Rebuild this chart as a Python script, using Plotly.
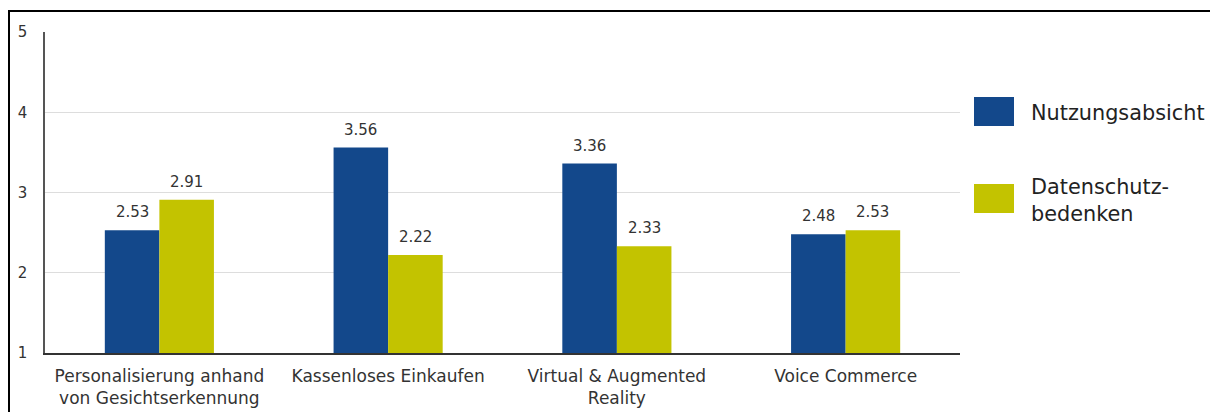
import plotly.graph_objects as go

categories = ["Personalisierung anhand<br>von Gesichtserkennung", "Kassenloses Einkaufen",
              "Virtual & Augmented<br>Reality", "Voice Commerce"]
nutzung = [2.53, 3.56, 3.36, 2.48]
datenschutz = [2.91, 2.22, 2.33, 2.53]
series_names = ["Nutzungsabsicht", "Datenschutz-<br>bedenken"]
colors = ["#13488B", "#C3C300"]
y_ticks = [1, 2, 3, 4, 5]
y_base = 1

FONT = "DejaVu Sans"
OFF = 8  # page body margin
W, H = 1218 - OFF, 412 - OFF
# plot area in page pixels
PL, PR, PT, PB = 45, 960, 32, 353
ML, MT = PL - OFF, PT - OFF
MR, MB = W - (PR - OFF), H - (PB - OFF)
PW, PH = PR - PL, PB - PT

fig = go.Figure()
for name, vals, col in zip(series_names, [nutzung, datenschutz], colors):
    fig.add_trace(go.Bar(x=categories, y=[v - y_base for v in vals], base=y_base, name=name,
                         marker=dict(color=col, line=dict(width=0)), showlegend=False,
                         hoverinfo="skip"))

bar_px = PW / len(categories) * 0.477 / 2
for vals, sign in [(nutzung, -1), (datenschutz, 1)]:
    for c, v in zip(categories, vals):
        fig.add_annotation(x=c, y=v, xref="x", yref="y", text=f"{v:.2f}", showarrow=False,
                           yanchor="bottom", yshift=7, xshift=sign * bar_px / 2,
                           font=dict(family=FONT, size=15, color="#333333"))

def px2x(px):
    return (px - PL) / PW

def py2y(py):
    return (PB - py) / PH

# legend drawn manually (large swatches)
legend_items = [(series_names[0], colors[0], 97, 126, 113), (series_names[1], colors[1], 184, 213, 201)]
for name, col, top, bot, ty in legend_items:
    fig.add_shape(type="rect", xref="paper", yref="paper", x0=px2x(974), x1=px2x(1014),
                  y0=py2y(bot), y1=py2y(top), fillcolor=col, line=dict(width=0))
    fig.add_annotation(xref="paper", yref="paper", x=px2x(1029), y=py2y(ty), text=name,
                       showarrow=False, xanchor="left", yanchor="middle", align="left",
                       font=dict(family=FONT, size=20.8, color="#222222"))

# outer frame
fig.add_shape(type="rect", xref="paper", yref="paper", x0=px2x(9), y0=-1, x1=2, y1=py2y(11),
              line=dict(color="black", width=2), fillcolor="rgba(0,0,0,0)", layer="above")

fig.update_layout(
    width=W, height=H, margin=dict(l=ML, r=MR, t=MT, b=MB, pad=0, autoexpand=False),
    paper_bgcolor="white", plot_bgcolor="white",
    barmode="group", bargap=0.523, bargroupgap=0,
    font=dict(family=FONT, size=15, color="#333333"),
    xaxis=dict(showline=True, linecolor="#333333", linewidth=1.5, ticks="", showgrid=False,
               automargin=False, ticklabelstandoff=7,
               tickfont=dict(family=FONT, size=17, color="#333333")),
    yaxis=dict(range=[1, 5], tickvals=y_ticks, showline=True, linecolor="#555555", linewidth=1.5,
               gridcolor="#DDDDDD", gridwidth=1, ticks="", ticklabelstandoff=13, zeroline=False,
               automargin=False,
               tickfont=dict(family=FONT, size=15, color="#333333")),
)
fig.write_html("out.html")
